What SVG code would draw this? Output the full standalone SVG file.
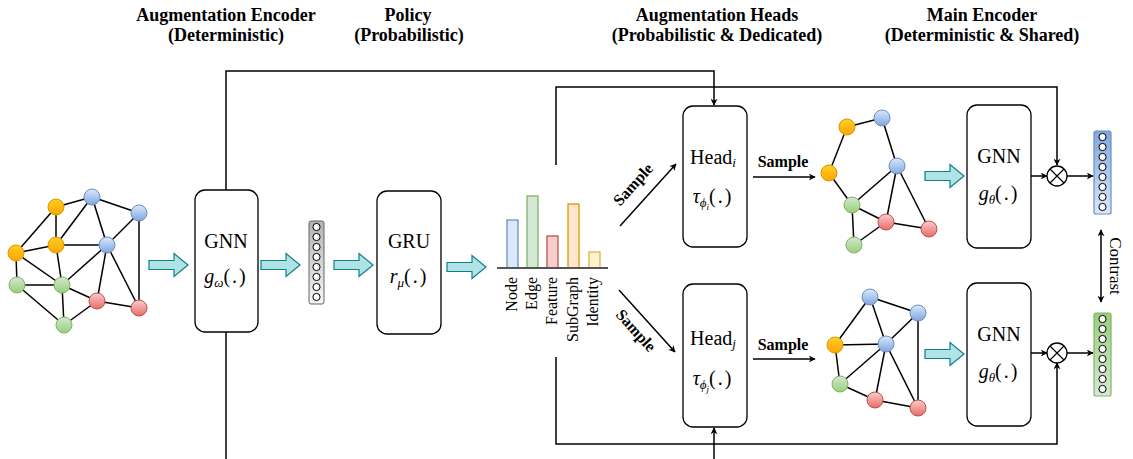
<svg xmlns="http://www.w3.org/2000/svg" xmlns:xlink="http://www.w3.org/1999/xlink" width="1133" height="459" viewBox="0 0 1133 459">
  <style>
    .hdr { font-family: "Liberation Serif", "Times New Roman", serif; font-weight: bold; font-size: 18px; text-anchor: middle; fill: #000; }
    .lbl { font-family: "Liberation Serif", "Times New Roman", serif; font-size: 20px; text-anchor: middle; fill: #000; }
    .it { font-style: italic; }
    .smp { font-family: "Liberation Serif", "Times New Roman", serif; font-weight: bold; font-size: 16px; text-anchor: middle; fill: #000; }
    .bar-lbl { font-family: "Liberation Serif", "Times New Roman", serif; font-size: 16px; text-anchor: end; fill: #000; }
    .box { fill: #fff; stroke: #000; stroke-width: 1.3; }
    .edge { stroke: #000; stroke-width: 1.5; fill: none; }
    .wire { stroke: #000; stroke-width: 1.5; fill: none; }
    .arr { stroke: #000; stroke-width: 1.5; fill: none; marker-end: url(#ah); }
    .blk { fill: #b0e3e6; stroke: #0e8088; stroke-width: 1.2; }
    .cell { fill: #fff; stroke: #000; stroke-width: 1; }
    .nO { fill: url(#gO); stroke: #d79b00; stroke-width: 1; }
    .nB { fill: url(#gB); stroke: #6c8ebf; stroke-width: 1; }
    .nG { fill: url(#gG); stroke: #82b366; stroke-width: 1; }
    .nR { fill: url(#gR); stroke: #b85450; stroke-width: 1; }
  </style>
  <defs>
    <linearGradient id="gO" x1="0" y1="0" x2="0" y2="1"><stop offset="0" stop-color="#ffcd28"/><stop offset="1" stop-color="#ffa500"/></linearGradient>
    <linearGradient id="gB" x1="0" y1="0" x2="0" y2="1"><stop offset="0" stop-color="#dae8fc"/><stop offset="1" stop-color="#7ea6e0"/></linearGradient>
    <linearGradient id="gG" x1="0" y1="0" x2="0" y2="1"><stop offset="0" stop-color="#d5e8d4"/><stop offset="1" stop-color="#97d077"/></linearGradient>
    <linearGradient id="gR" x1="0" y1="0" x2="0" y2="1"><stop offset="0" stop-color="#f8cecc"/><stop offset="1" stop-color="#ea6b66"/></linearGradient>
    <linearGradient id="gGrey" x1="0" y1="0" x2="0" y2="1"><stop offset="0" stop-color="#b3b3b3"/><stop offset="1" stop-color="#f5f5f5"/></linearGradient>
    <linearGradient id="gEmbB" x1="0" y1="0" x2="0" y2="1"><stop offset="0" stop-color="#7ea6e0"/><stop offset="1" stop-color="#dae8fc"/></linearGradient>
    <linearGradient id="gEmbG" x1="0" y1="0" x2="0" y2="1"><stop offset="0" stop-color="#97d077"/><stop offset="1" stop-color="#d5e8d4"/></linearGradient>
    <marker id="ah" viewBox="0 0 10 10" refX="9" refY="5" markerWidth="7" markerHeight="7" markerUnits="userSpaceOnUse" orient="auto-start-reverse">
      <path d="M0,0 L10,5 L0,10 L3,5 Z" fill="#000"/>
    </marker>
    <!-- block arrow, 39 long, centred on y=0 -->
    <path id="blkArrow" class="blk" d="M0,-4.5 H25 V-11.5 L39,0 L25,11.5 V4.5 H0 Z"/>
    <!-- embedding column of 8 cells -->
    <g id="cells">
      <circle class="cell" cx="0" cy="0" r="3.6"/>
      <circle class="cell" cx="0" cy="10" r="3.6"/>
      <circle class="cell" cx="0" cy="20" r="3.6"/>
      <circle class="cell" cx="0" cy="30" r="3.6"/>
      <circle class="cell" cx="0" cy="40" r="3.6"/>
      <circle class="cell" cx="0" cy="50" r="3.6"/>
      <circle class="cell" cx="0" cy="60" r="3.6"/>
      <circle class="cell" cx="0" cy="70" r="3.6"/>
    </g>
  </defs>

  <rect width="1133" height="459" fill="#fff"/>

  <!-- column headings -->
  <g id="headings">
    <text class="hdr" x="226" y="21">Augmentation Encoder</text>
    <text class="hdr" x="226" y="41">(Deterministic)</text>
    <text class="hdr" x="408" y="21">Policy</text>
    <text class="hdr" x="409" y="41">(Probabilistic)</text>
    <text class="hdr" x="717" y="21">Augmentation Heads</text>
    <text class="hdr" x="717" y="41">(Probabilistic &amp; Dedicated)</text>
    <text class="hdr" x="982" y="21">Main Encoder</text>
    <text class="hdr" x="982" y="41">(Deterministic &amp; Shared)</text>
  </g>

  <!-- connectors -->
  <g id="connectors">
    <polyline class="arr" points="226,190 226,71 714,71 714,105"/>
    <line class="wire" x1="226" y1="332" x2="226" y2="459"/>
    <polyline class="arr" points="556,165 556,87 1057,87 1057,165"/>
    <polyline class="arr" points="556,357 556,444 1057,444 1057,363"/>
    <line class="arr" x1="714" y1="459" x2="714" y2="428"/>
    <line class="arr" x1="620" y1="226" x2="676" y2="164"/>
    <line class="arr" x1="619" y1="290" x2="675" y2="352"/>
    <line class="arr" x1="753" y1="177" x2="815" y2="177"/>
    <line class="arr" x1="753" y1="359" x2="815" y2="359"/>
    <line class="arr" x1="1031" y1="176" x2="1047" y2="176"/>
    <line class="arr" x1="1067" y1="176" x2="1093" y2="176"/>
    <line class="arr" x1="1031" y1="353" x2="1047" y2="353"/>
    <line class="arr" x1="1067" y1="353" x2="1093" y2="353"/>
    <line class="arr" x1="1101" y1="230" x2="1101" y2="302" marker-start="url(#ah)"/>
    <use href="#blkArrow" transform="translate(149,265)"/>
    <use href="#blkArrow" transform="translate(261,265)"/>
    <use href="#blkArrow" transform="translate(334,265)"/>
    <use href="#blkArrow" transform="translate(447,267)"/>
    <use href="#blkArrow" transform="translate(925,176)"/>
    <use href="#blkArrow" transform="translate(925,354)"/>
    <text class="smp" transform="translate(637,188) rotate(-48)">Sample</text>
    <text class="smp" transform="translate(632,334) rotate(48)">Sample</text>
    <text class="smp" x="783" y="167">Sample</text>
    <text class="smp" x="783" y="350">Sample</text>
    <text font-family="Liberation Serif, Times New Roman, serif" font-size="17" text-anchor="middle" transform="translate(1110,266) rotate(90)">Contrast</text>
  </g>

  <!-- input graph -->
  <g id="graph-input">
    <g class="edge">
      <line x1="56" y1="207" x2="92" y2="197"/>
      <line x1="56" y1="207" x2="16" y2="253"/>
      <line x1="56" y1="207" x2="56" y2="245"/>
      <line x1="92" y1="197" x2="139" y2="213"/>
      <line x1="92" y1="197" x2="56" y2="245"/>
      <line x1="92" y1="197" x2="107" y2="245"/>
      <line x1="139" y1="213" x2="107" y2="245"/>
      <line x1="139" y1="213" x2="139" y2="308"/>
      <line x1="56" y1="245" x2="16" y2="253"/>
      <line x1="56" y1="245" x2="107" y2="245"/>
      <line x1="56" y1="245" x2="62" y2="285"/>
      <line x1="16" y1="253" x2="17" y2="285"/>
      <line x1="16" y1="253" x2="62" y2="285"/>
      <line x1="107" y1="245" x2="62" y2="285"/>
      <line x1="107" y1="245" x2="97" y2="301"/>
      <line x1="107" y1="245" x2="139" y2="308"/>
      <line x1="17" y1="285" x2="62" y2="285"/>
      <line x1="17" y1="285" x2="64" y2="325"/>
      <line x1="62" y1="285" x2="97" y2="301"/>
      <line x1="62" y1="285" x2="64" y2="325"/>
      <line x1="64" y1="325" x2="97" y2="301"/>
      <line x1="97" y1="301" x2="139" y2="308"/>
    </g>
    <circle class="nO" cx="56" cy="207" r="8"/>
    <circle class="nB" cx="92" cy="197" r="8"/>
    <circle class="nB" cx="139" cy="213" r="8"/>
    <circle class="nO" cx="56" cy="245" r="8"/>
    <circle class="nO" cx="16" cy="253" r="8"/>
    <circle class="nB" cx="107" cy="245" r="8"/>
    <circle class="nG" cx="17" cy="285" r="8"/>
    <circle class="nG" cx="62" cy="285" r="8"/>
    <circle class="nR" cx="97" cy="301" r="8"/>
    <circle class="nR" cx="139" cy="308" r="8"/>
    <circle class="nG" cx="64" cy="325" r="8"/>
  </g>

  <!-- augmentation encoder -->
  <g id="aug-encoder">
    <rect class="box" x="195" y="190" width="63" height="142" rx="10"/>
    <text class="lbl" x="226" y="248">GNN</text>
    <text class="lbl" x="226" y="283"><tspan class="it">g</tspan><tspan class="it" font-size="13" dy="4">ω</tspan><tspan dy="-4" letter-spacing="2">(.)</tspan></text>
  </g>

  <!-- graph embedding -->
  <g id="graph-embedding">
    <rect x="309" y="221" width="15" height="83" rx="2" fill="url(#gGrey)" stroke="#666" stroke-width="1"/>
    <use href="#cells" transform="translate(316.5,227)"/>
  </g>

  <!-- policy GRU -->
  <g id="policy-gru">
    <rect class="box" x="377" y="191" width="64" height="143" rx="10"/>
    <text class="lbl" x="409" y="248">GRU</text>
    <text class="lbl" x="409" y="283"><tspan class="it">r</tspan><tspan class="it" font-size="13" dy="4">μ</tspan><tspan dy="-4" letter-spacing="2">(.)</tspan></text>
  </g>

  <!-- augmentation distribution -->
  <g id="aug-distribution">
    <rect x="507" y="220" width="11" height="48" fill="#dae8fc" stroke="#6c8ebf" stroke-width="1.3"/>
    <rect x="527" y="196" width="11" height="72" fill="#d5e8d4" stroke="#82b366" stroke-width="1.3"/>
    <rect x="547" y="236" width="11" height="32" fill="#f8cecc" stroke="#b85450" stroke-width="1.3"/>
    <rect x="568" y="204" width="11" height="64" fill="#ffe6cc" stroke="#d79b00" stroke-width="1.3"/>
    <rect x="589" y="252" width="11" height="16" fill="#fff2cc" stroke="#d6b656" stroke-width="1.3"/>
    <line x1="497" y1="268" x2="608" y2="268" stroke="#555" stroke-width="1.8"/>
    <text class="bar-lbl" transform="translate(517,277) rotate(-90)">Node</text>
    <text class="bar-lbl" transform="translate(537,277) rotate(-90)">Edge</text>
    <text class="bar-lbl" transform="translate(557,277) rotate(-90)">Feature</text>
    <text class="bar-lbl" transform="translate(578,277) rotate(-90)">SubGraph</text>
    <text class="bar-lbl" transform="translate(598,277) rotate(-90)">Identity</text>
  </g>

  <!-- augmentation head i -->
  <g id="head-i">
    <rect class="box" x="683" y="106" width="64" height="141" rx="10"/>
    <text class="lbl" x="713" y="164">Head<tspan class="it" font-size="13" dy="3">i</tspan></text>
    <text class="lbl" x="713" y="203"><tspan class="it">τ</tspan><tspan class="it" font-size="13" dy="4">ϕ</tspan><tspan class="it" font-size="9" dy="3">i</tspan><tspan dy="-7" letter-spacing="2">(.)</tspan></text>
  </g>

  <!-- augmentation head j -->
  <g id="head-j">
    <rect class="box" x="683" y="284" width="64" height="143" rx="10"/>
    <text class="lbl" x="713" y="345">Head<tspan class="it" font-size="13" dy="3">j</tspan></text>
    <text class="lbl" x="713" y="385"><tspan class="it">τ</tspan><tspan class="it" font-size="13" dy="4">ϕ</tspan><tspan class="it" font-size="9" dy="3">j</tspan><tspan dy="-7" letter-spacing="2">(.)</tspan></text>
  </g>

  <!-- augmented view i -->
  <g id="graph-view-i">
    <g class="edge">
      <line x1="847" y1="127" x2="882" y2="118"/>
      <line x1="847" y1="127" x2="829" y2="173"/>
      <line x1="882" y1="118" x2="897" y2="166"/>
      <line x1="829" y1="173" x2="852" y2="205"/>
      <line x1="852" y1="205" x2="897" y2="166"/>
      <line x1="897" y1="166" x2="886" y2="222"/>
      <line x1="897" y1="166" x2="929" y2="229"/>
      <line x1="852" y1="205" x2="886" y2="222"/>
      <line x1="852" y1="205" x2="854" y2="245"/>
      <line x1="854" y1="245" x2="886" y2="222"/>
      <line x1="886" y1="222" x2="929" y2="229"/>
    </g>
    <circle class="nO" cx="847" cy="127" r="8"/>
    <circle class="nB" cx="882" cy="118" r="8"/>
    <circle class="nO" cx="829" cy="173" r="8"/>
    <circle class="nB" cx="897" cy="166" r="8"/>
    <circle class="nG" cx="852" cy="205" r="8"/>
    <circle class="nR" cx="886" cy="222" r="8"/>
    <circle class="nR" cx="929" cy="229" r="8"/>
    <circle class="nG" cx="854" cy="245" r="8"/>
  </g>

  <!-- augmented view j -->
  <g id="graph-view-j">
    <g class="edge">
      <line x1="870" y1="297" x2="835" y2="345"/>
      <line x1="870" y1="297" x2="918" y2="313"/>
      <line x1="870" y1="297" x2="886" y2="344"/>
      <line x1="918" y1="313" x2="886" y2="344"/>
      <line x1="918" y1="313" x2="918" y2="408"/>
      <line x1="835" y1="345" x2="886" y2="344"/>
      <line x1="835" y1="345" x2="840" y2="384"/>
      <line x1="840" y1="384" x2="886" y2="344"/>
      <line x1="886" y1="344" x2="875" y2="400"/>
      <line x1="886" y1="344" x2="918" y2="408"/>
      <line x1="840" y1="384" x2="875" y2="400"/>
      <line x1="875" y1="400" x2="918" y2="408"/>
    </g>
    <circle class="nB" cx="870" cy="297" r="8"/>
    <circle class="nB" cx="918" cy="313" r="8"/>
    <circle class="nO" cx="835" cy="345" r="8"/>
    <circle class="nB" cx="886" cy="344" r="8"/>
    <circle class="nG" cx="840" cy="384" r="8"/>
    <circle class="nR" cx="875" cy="400" r="8"/>
    <circle class="nR" cx="918" cy="408" r="8"/>
  </g>

  <!-- main encoder, view i -->
  <g id="main-encoder-i">
    <rect class="box" x="967" y="105" width="64" height="143" rx="10"/>
    <text class="lbl" x="999" y="163">GNN</text>
    <text class="lbl" x="999" y="200"><tspan class="it">g</tspan><tspan class="it" font-size="13" dy="4">θ</tspan><tspan dy="-4" letter-spacing="2">(.)</tspan></text>
  </g>

  <!-- main encoder, view j -->
  <g id="main-encoder-j">
    <rect class="box" x="967" y="283" width="64" height="143" rx="10"/>
    <text class="lbl" x="999" y="341">GNN</text>
    <text class="lbl" x="999" y="378"><tspan class="it">g</tspan><tspan class="it" font-size="13" dy="4">θ</tspan><tspan dy="-4" letter-spacing="2">(.)</tspan></text>
  </g>

  <!-- gating products -->
  <g id="product-i">
    <circle cx="1057" cy="176" r="10" fill="#fff" stroke="#000" stroke-width="1.3"/>
    <path d="M1050,169 L1064,183 M1064,169 L1050,183" stroke="#000" stroke-width="1.2"/>
  </g>
  <g id="product-j">
    <circle cx="1057" cy="353" r="10" fill="#fff" stroke="#000" stroke-width="1.3"/>
    <path d="M1050,346 L1064,360 M1064,346 L1050,360" stroke="#000" stroke-width="1.2"/>
  </g>

  <!-- output embeddings -->
  <g id="embedding-i">
    <rect x="1094" y="131" width="17" height="83" rx="2" fill="url(#gEmbB)" stroke="#6c8ebf" stroke-width="1.2"/>
    <use href="#cells" transform="translate(1102.5,137)"/>
  </g>
  <g id="embedding-j">
    <rect x="1094" y="313" width="17" height="83" rx="2" fill="url(#gEmbG)" stroke="#82b366" stroke-width="1.2"/>
    <use href="#cells" transform="translate(1102.5,319)"/>
  </g>
</svg>
